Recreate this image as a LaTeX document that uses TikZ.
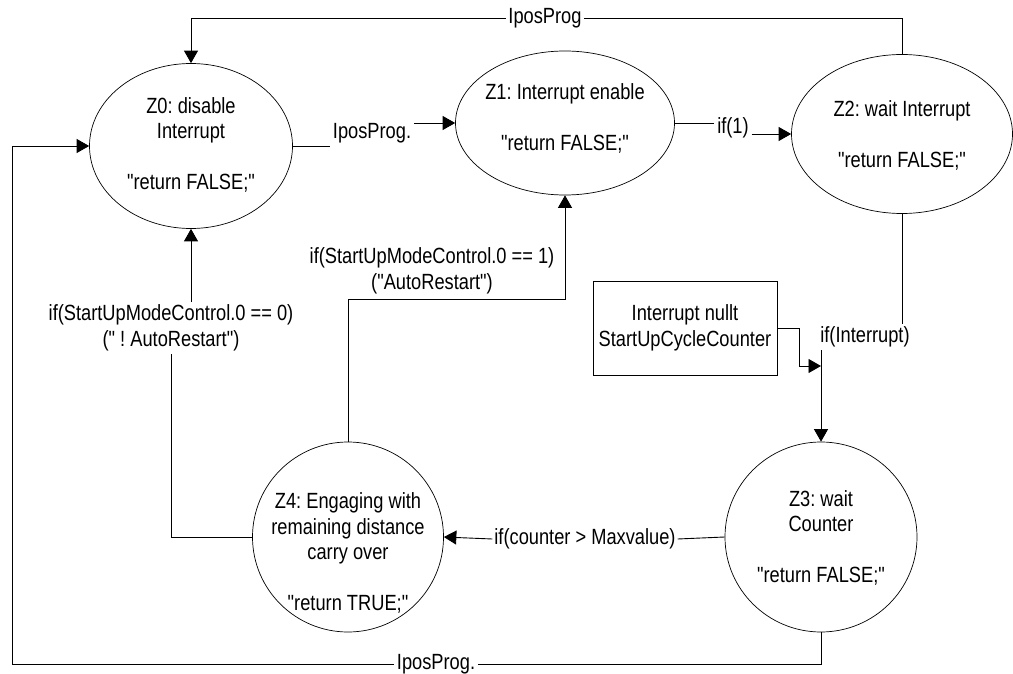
\documentclass[tikz,border=0pt]{standalone}
\usepackage{fontspec}
\setmainfont[FakeStretch=0.83, Ligatures=TeXOff]{Liberation Sans}
\usetikzlibrary{arrows.meta,shapes.geometric,calc}
% straight double quote
\newcommand{\sq}{\char34\relax}

\begin{document}
\frenchspacing
\begin{tikzpicture}[x=1pt,y=-1pt,
  font=\fontsize{22}{25.5}\selectfont,
  line width=0.9pt,
  arr/.style={-{Triangle[length=12.5pt,width=14pt]}},
  zstate/.style={draw, ellipse, inner sep=0pt, line width=0.7pt},
  statetext/.style={align=center, inner sep=0pt},
  lbl/.style={align=center, inner sep=2.5pt},
  clearbox/.style={draw, rectangle, align=center, minimum width=184pt,
    minimum height=94pt, line width=0.7pt}
]
\fill[white] (0,0) rectangle (1013,674);
\useasboundingbox (0,0) rectangle (1013,674);

% states
\node[zstate, minimum width=203pt, minimum height=165pt] (Z0) at (191,146) {};
\node[statetext] (Z0t) at (191,145) {Z0: disable\\Interrupt\\[25.5pt]\sq return FALSE;\sq};
\node[zstate, minimum width=219pt, minimum height=144pt] (Z1) at (565,123) {};
\node[statetext] (Z1t) at (565,118) {Z1: Interrupt enable\\[25.5pt]\sq return FALSE;\sq};
\node[zstate, minimum width=221pt, minimum height=159pt] (Z2) at (902,134) {};
\node[statetext] (Z2t) at (902,135) {Z2: wait Interrupt\\[25.5pt]\sq return FALSE;\sq};
\node[zstate, minimum width=192pt, minimum height=190pt] (Z3) at (821,537) {};
\node[statetext] (Z3t) at (821,538) {Z3: wait\\Counter\\[25.5pt]\sq return FALSE;\sq};
\node[zstate, minimum width=191pt, minimum height=190pt] (Z4) at (348,537) {};
\node[statetext] (Z4t) at (348,553) {Z4: Engaging with\\remaining distance\\carry over\\[25.5pt]\sq return TRUE;\sq};

% counter reset block
\node[clearbox] (clr) at (685,328) {Interrupt nullt\\StartUpCycleCounter};

% transition labels
\node[lbl] (l01) at (372,133) {IposProg.};
\node[lbl] (l12) at (733,128) {if(1)};
\node[lbl] (lint) at (865,337) {if(Interrupt)};
\node[lbl, inner sep=1.5pt] (lcnt) at (585,539) {if(counter > Maxvalue)};
\node[lbl] (l41) at (432,271) {if(StartUpModeControl.0 == 1)\\(\sq AutoRestart\sq)};
\node[lbl] (l40) at (171,328) {if(StartUpModeControl.0 == 0)\\(\sq{} ! AutoRestart\sq)};

% transitions
\coordinate (ktop) at (0,18);
\draw[arr] (Z2.north) -- (Z2.north |- ktop) -| (Z0.north);
\draw (Z0.east) -- (Z0.east -| l01.west);
\draw[arr] (l01.east |- Z1.west) -- (Z1.west);
\draw (Z1.east) -- (Z1.east -| l12.west);
\draw[arr] (l12.east |- Z2.west) -- (Z2.west);
\draw (Z2.south) -- (Z2.south |- lint.north);
\draw[arr] (lint.south -| Z3.north) -- (Z3.north);
\coordinate (join) at (821,366);
\draw[arr] (clr.east) -| ($(join)+(-22,0)$) -- (join);
\draw (Z3.west) -- (lcnt.east);
\draw[arr] (lcnt.west) -- (Z4.east);
\coordinate (kmid) at (0,299);
\draw[arr] (Z4.north) -- (Z4.north |- kmid) -| (Z1.south);
\draw (Z4.west) -| (l40.south);
\draw[arr] (l40.north -| Z0.south) -- (Z0.south);
\coordinate (kbl) at (12,664);
\draw[arr] (Z3.south) |- (kbl) |- (Z0.west);

% labels sitting on the outer loops
\node[lbl, fill=white] (ltop) at (545,18) {IposProg};
\node[lbl, fill=white] (lbot) at (436,664) {IposProg.};
\end{tikzpicture}
\end{document}
